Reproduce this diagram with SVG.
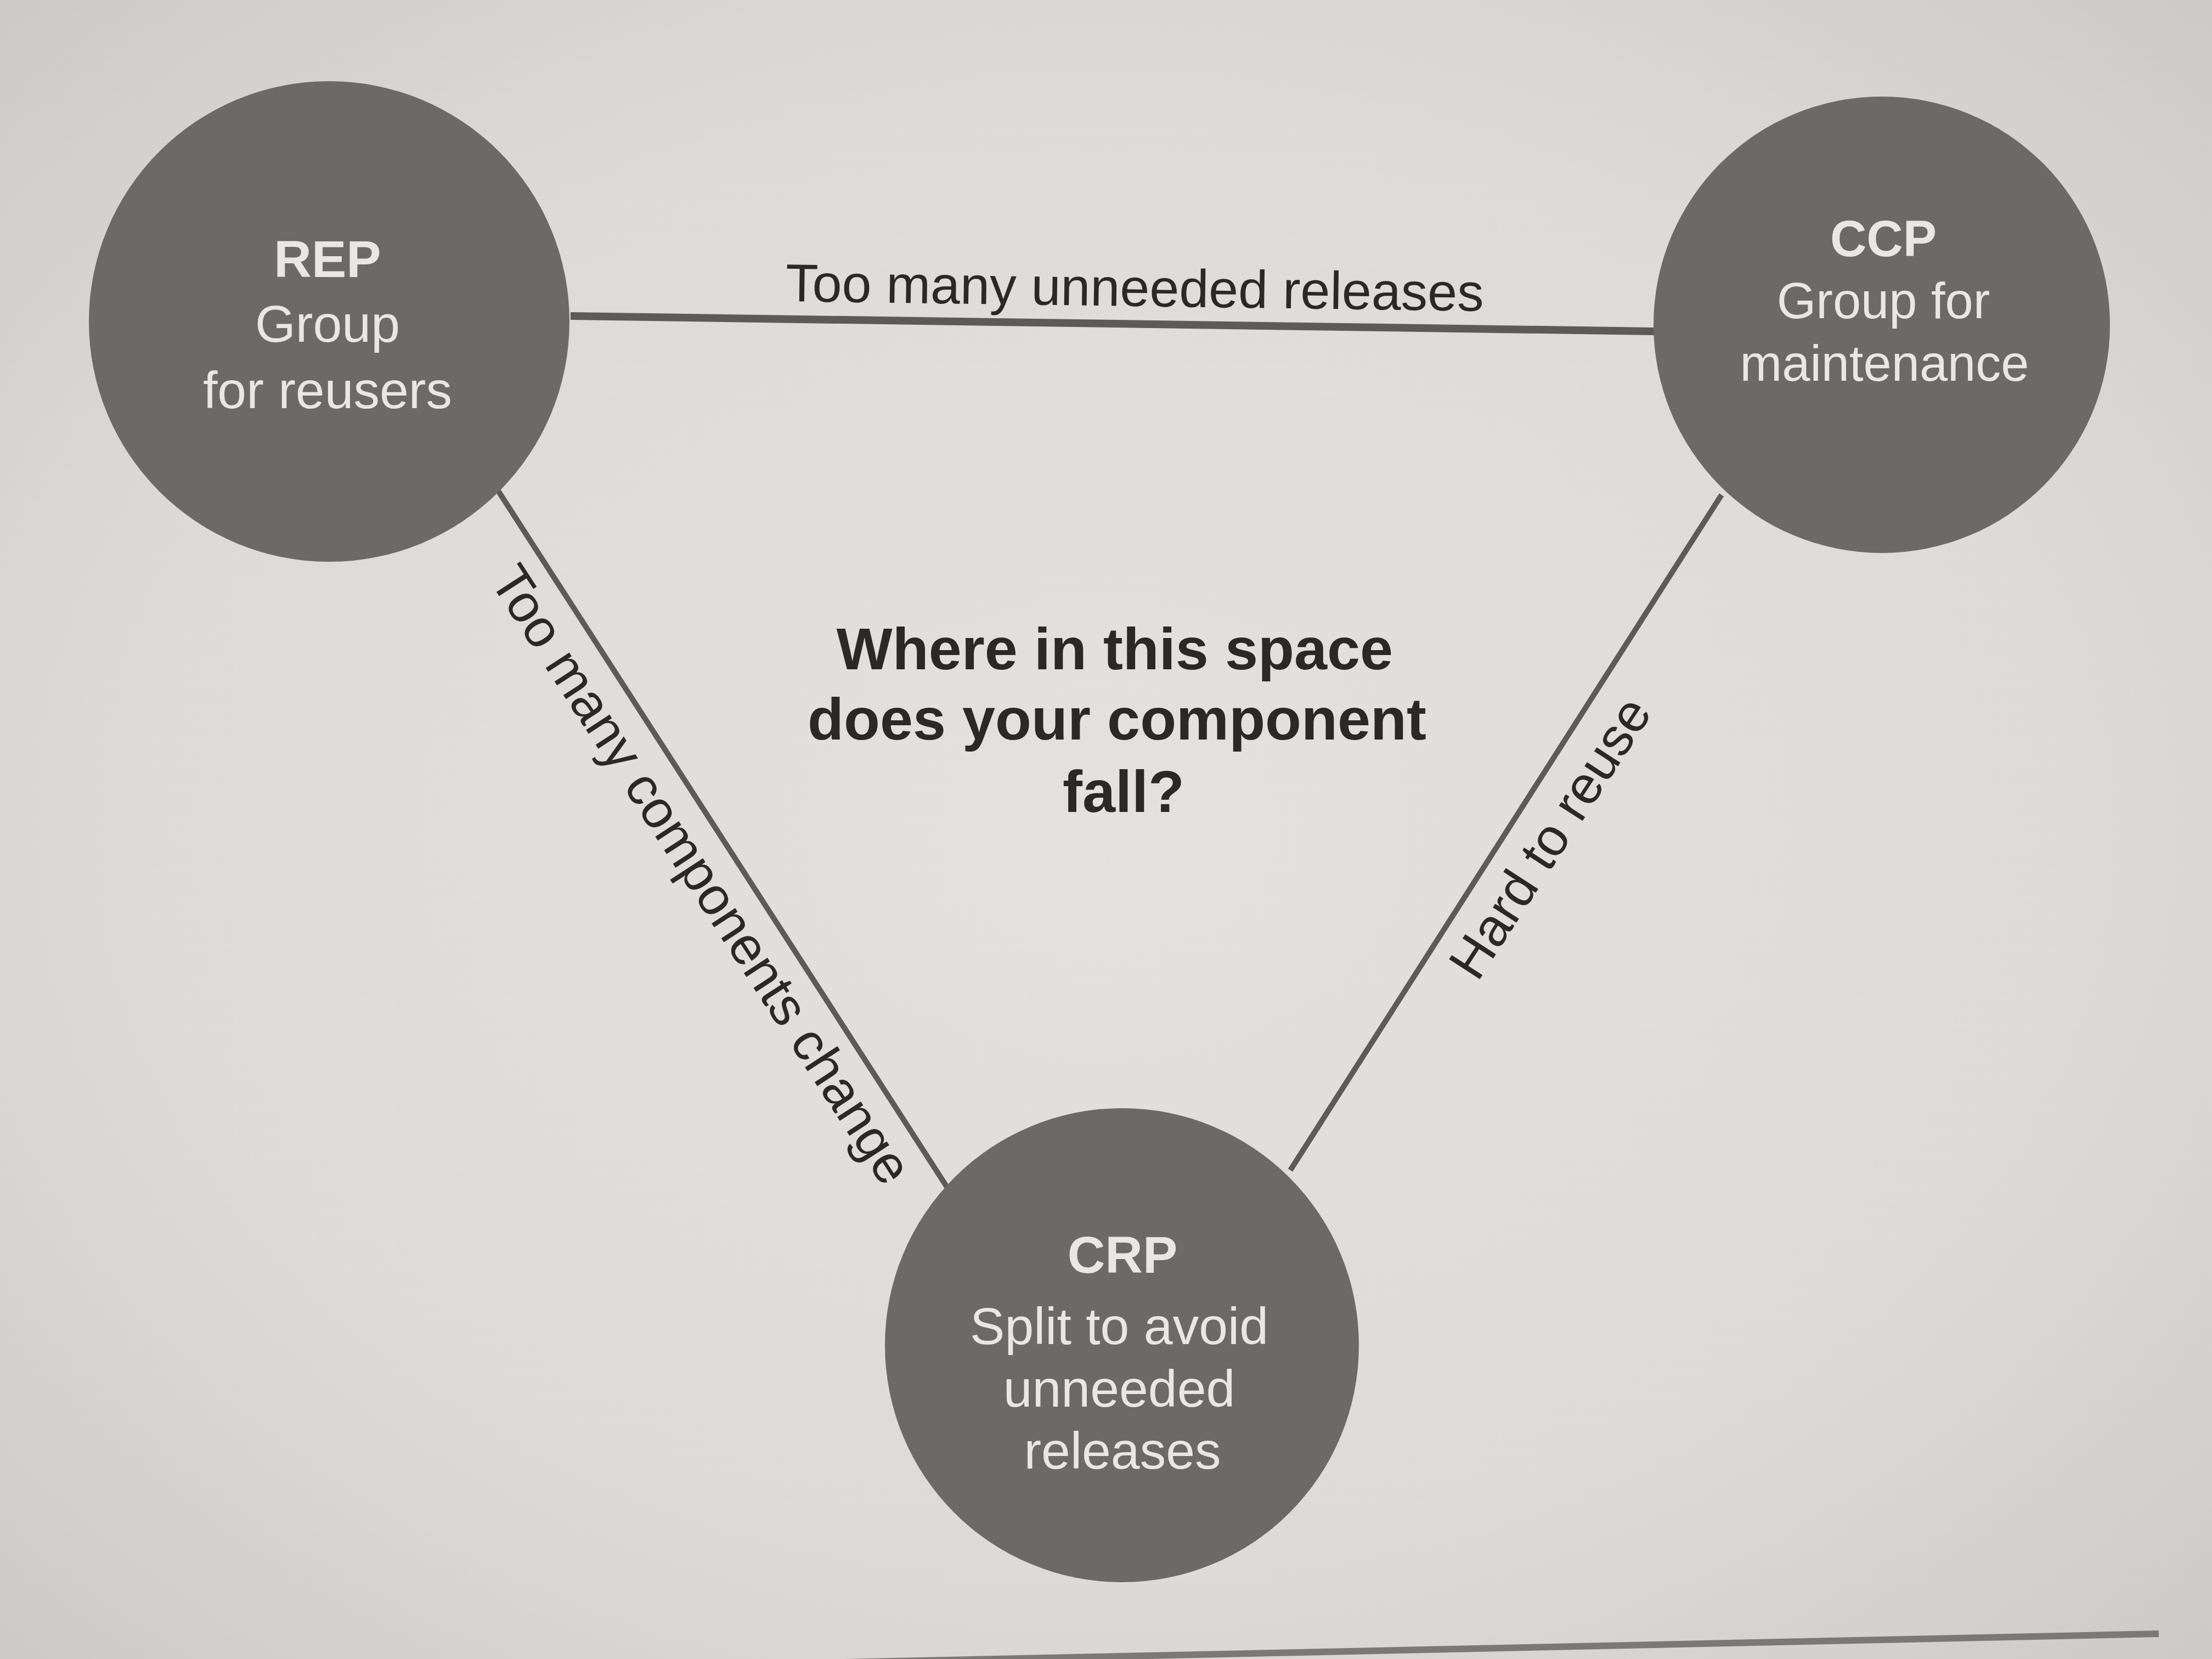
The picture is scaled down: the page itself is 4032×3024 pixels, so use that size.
<svg xmlns="http://www.w3.org/2000/svg" width="4032" height="3024" viewBox="0 0 4032 3024">
  <defs>
    <radialGradient id="paper" cx="50%" cy="50%" r="75%">
      <stop offset="0" stop-color="#e3e2df"/>
      <stop offset="0.6" stop-color="#dcdbd8"/>
      <stop offset="1" stop-color="#c9c8c5"/>
    </radialGradient>
  </defs>
  <style>
    .node circle { fill: #6b6a68; }
    .node text { fill: #e9e7e3; font-family: "Liberation Sans", Arial, sans-serif; font-size: 95px; text-anchor: middle; }
    .node text.title { font-weight: bold; }
    .edge { stroke: #5c5b59; fill: none; stroke-linecap: butt; }
    .elabel { fill: #2a2928; font-family: "Liberation Sans", Arial, sans-serif; font-size: 97px; text-anchor: middle; }
    .question { fill: #2a2928; font-family: "Liberation Sans", Arial, sans-serif; font-size: 108px; font-weight: bold; text-anchor: middle; }
  </style>
  <rect x="0" y="0" width="4032" height="3024" fill="url(#paper)"/>
  <line x1="1540" y1="3030" x2="3935" y2="2978" stroke="#7a7977" stroke-width="12"/>

  <g id="connectors">
    <line class="edge" x1="1040" y1="576" x2="3016" y2="604" stroke-width="14"/>
    <line class="edge" x1="907" y1="893" x2="1734" y2="2176" stroke-width="10"/>
    <line class="edge" x1="3138" y1="902" x2="2352" y2="2133" stroke-width="10"/>
    <text class="elabel" x="2068" y="558" transform="rotate(0.8 2068 558)">Too many unneeded releases</text>
    <text class="elabel" x="1251" y="1612" transform="rotate(57 1251 1612)">Too many components change</text>
    <text class="elabel" x="2853" y="1545" transform="rotate(-57 2853 1545)">Hard to reuse</text>
  </g>

  <g id="node-rep" class="node">
    <circle cx="600" cy="586" r="438"/>
    <text class="title" x="597" y="505">REP</text>
    <text x="597" y="623">Group</text>
    <text x="597" y="744">for reusers</text>
  </g>

  <g id="node-ccp" class="node">
    <circle cx="3430" cy="592" r="416"/>
    <text class="title" x="3433" y="467" style="font-size:92px">CCP</text>
    <text x="3433" y="580" style="font-size:92px">Group for</text>
    <text x="3435" y="694" style="font-size:92px">maintenance</text>
  </g>

  <g id="node-crp" class="node">
    <circle cx="2045" cy="2452" r="432"/>
    <text class="title" x="2046" y="2320">CRP</text>
    <text x="2040" y="2450">Split to avoid</text>
    <text x="2040" y="2564">unneeded</text>
    <text x="2046" y="2677">releases</text>
  </g>

  <g id="question">
    <text class="question" x="2032" y="1220">Where in this space</text>
    <text class="question" x="2036" y="1348">does your component</text>
    <text class="question" x="2048" y="1480">fall?</text>
  </g>
</svg>
